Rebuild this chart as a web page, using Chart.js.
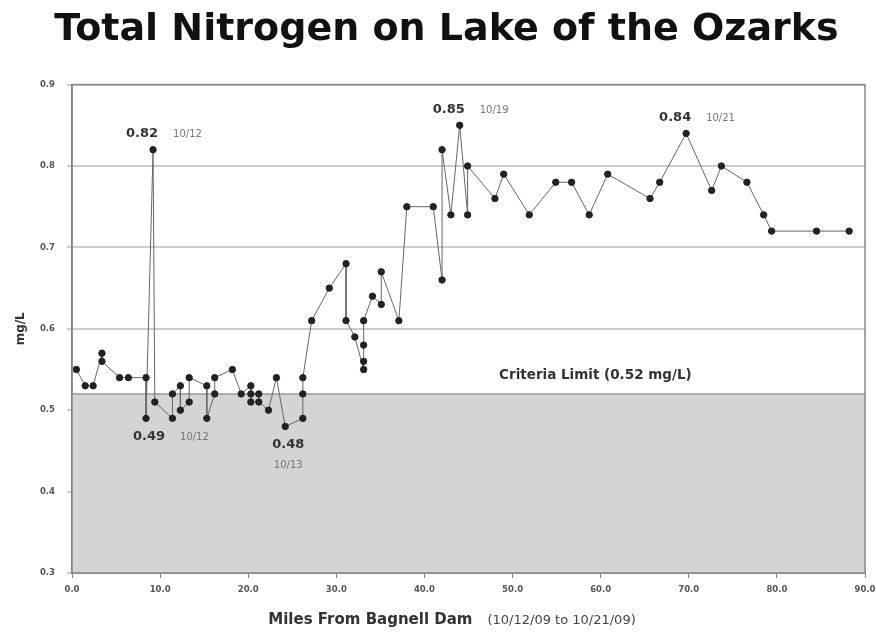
<!DOCTYPE html>
<html>
<head>
<meta charset="utf-8">
<script src="https://cdn.jsdelivr.net/npm/chart.js@4.4.0/dist/chart.umd.min.js"></script>
<style>
  html, body { margin: 0; padding: 0; background: #fff; }
</style>
</head>
<body>
<canvas id="myChart" width="876" height="633"></canvas>
<script>
// sampling sites, in the order the line joins them
var miles = [0.5, 1.5, 2.4, 3.4, 3.4, 5.4, 6.4, 8.4, 8.4, 9.2, 9.4, 11.4, 11.4, 12.3, 12.3, 13.3, 13.3,
  15.3, 15.3, 16.2, 16.2, 18.2, 19.2, 20.3, 20.3, 20.3, 21.2, 21.2, 22.3, 23.2, 24.2, 26.2, 26.2, 26.2,
  27.2, 29.2, 31.1, 31.1, 32.1, 33.1, 33.1, 33.1, 33.1, 34.1, 35.1, 35.1, 37.1, 38.0, 41.0, 42.0, 42.0,
  43.0, 44.0, 44.9, 44.9, 48.0, 49.0, 51.9, 54.9, 56.7, 58.7, 60.8, 65.6, 66.7, 69.7, 72.6, 73.7, 76.6,
  78.5, 79.4, 84.5, 88.2];
var nitrogen = [0.55, 0.53, 0.53, 0.57, 0.56, 0.54, 0.54, 0.54, 0.49, 0.82, 0.51, 0.49, 0.52, 0.53, 0.50, 0.51, 0.54,
  0.53, 0.49, 0.52, 0.54, 0.55, 0.52, 0.53, 0.51, 0.52, 0.52, 0.51, 0.50, 0.54, 0.48, 0.49, 0.52, 0.54,
  0.61, 0.65, 0.68, 0.61, 0.59, 0.55, 0.56, 0.58, 0.61, 0.64, 0.63, 0.67, 0.61, 0.75, 0.75, 0.66, 0.82,
  0.74, 0.85, 0.74, 0.80, 0.76, 0.79, 0.74, 0.78, 0.78, 0.74, 0.79, 0.76, 0.78, 0.84, 0.77, 0.80, 0.78,
  0.74, 0.72, 0.72, 0.72];

var criteriaLimit = 0.52;
var criteriaText = 'Criteria Limit (0.52 mg/L)';

// highs and lows called out on the chart
var noteMiles = [9.2, 44.0, 69.7, 8.4, 24.2];
var noteValues = [0.82, 0.85, 0.84, 0.49, 0.48];
var noteDates = ['10/12', '10/19', '10/21', '10/12', '10/13'];

var points = miles.map(function (m, i) { return { x: m, y: nitrogen[i] }; });

var notesPlugin = {
  id: 'notes',
  afterDraw: function (chart) {
    var c = chart.ctx;
    var xs = chart.scales.x, ys = chart.scales.y;
    var area = chart.chartArea;
    c.save();
    // frame round the plot
    c.strokeStyle = '#888';
    c.lineWidth = 1.5;
    c.strokeRect(area.left, area.top, area.right - area.left, area.bottom - area.top);

    // criteria label
    c.fillStyle = '#333';
    c.font = 'bold 13.5px "DejaVu Sans", sans-serif';
    c.textAlign = 'center';
    c.textBaseline = 'middle';
    c.fillText(criteriaText, xs.getPixelForValue(59.4), ys.getPixelForValue(0.543));

    for (var i = 0; i < noteMiles.length; i++) {
      var px = xs.getPixelForValue(noteMiles[i]);
      var py = ys.getPixelForValue(noteValues[i]);
      var low = noteValues[i] < criteriaLimit;
      c.fillStyle = '#333';
      c.font = 'bold 13px "DejaVu Sans", sans-serif';
      c.textAlign = 'center';
      var vx = low ? px + 3 : px - 11;
      var vy = low ? py + 18 : py - 16;
      c.fillText(noteValues[i].toFixed(2), vx, vy);
      c.fillStyle = '#777';
      c.font = '10px "DejaVu Sans", sans-serif';
      if (i === 4) {
        c.fillText(noteDates[i], px + 3, py + 39);
      } else {
        c.textAlign = 'left';
        c.fillText(noteDates[i], vx + 31, vy + 1);
      }
    }

    // x axis title in two fonts
    var t1 = 'Miles From Bagnell Dam';
    var t2 = '(10/12/09 to 10/21/09)';
    var f1 = 'bold 15px "DejaVu Sans", sans-serif';
    var f2 = '13px "DejaVu Sans", sans-serif';
    c.font = f1;
    var w1 = c.measureText(t1).width;
    c.font = f2;
    var w2 = c.measureText(t2).width;
    var gap = 15;
    var start = 452 - (w1 + gap + w2) / 2;
    c.textAlign = 'left';
    c.textBaseline = 'middle';
    c.fillStyle = '#333';
    c.font = f1;
    c.fillText(t1, start, area.bottom + 47);
    c.fillStyle = '#444';
    c.font = f2;
    c.fillText(t2, start + w1 + gap, area.bottom + 48);
    c.restore();
  }
};

var ctx = document.getElementById('myChart');

var myChart = new Chart(ctx, {
  type: 'line',
  data: {
    datasets: [{
      label: 'Total Nitrogen',
      data: points,
      borderColor: '#666',
      borderWidth: 1,
      pointBackgroundColor: '#222',
      pointBorderColor: '#222',
      pointRadius: 3.2,
      pointStyle: 'circle',
      tension: 0,
      fill: false,
      order: 1
    }, {
      label: 'Criteria',
      data: [{ x: 0, y: criteriaLimit }, { x: 90, y: criteriaLimit }],
      borderColor: '#999',
      borderWidth: 1.5,
      backgroundColor: '#d4d4d4',
      pointRadius: 0,
      fill: 'start',
      order: 2
    }]
  },
  options: {
    responsive: false,
    animation: false,
    layout: { padding: { left: 28, right: 11, top: 0, bottom: 0 } },
    plugins: {
      legend: { display: false },
      tooltip: { enabled: false },
      title: {
        display: true,
        text: 'Total Nitrogen on Lake of the Ozarks',
        color: '#111',
        font: { family: '"DejaVu Sans", sans-serif', size: 38, weight: 'bold' },
        padding: { top: 7, bottom: 32 }
      }
    },
    scales: {
      x: {
        type: 'linear',
        min: 0,
        max: 90,
        ticks: {
          stepSize: 10,
          padding: 7,
          color: '#555',
          font: { family: '"DejaVu Sans", sans-serif', size: 8.5, weight: 'bold' },
          maxRotation: 0,
          callback: function (v) { return v.toFixed(1); }
        },
        grid: { drawOnChartArea: false, drawTicks: true, tickLength: 5, color: '#888' },
        border: { color: '#777', width: 1.5 },
        afterFit: function (scale) {
          scale.height = 60;
          scale.paddingLeft = 0;
          scale.paddingRight = 0;
        }
      },
      y: {
        min: 0.3,
        max: 0.9,
        z: 1,
        ticks: {
          stepSize: 0.1,
          padding: 12,
          color: '#555',
          font: { family: '"DejaVu Sans", sans-serif', size: 8.5, weight: 'bold' },
          callback: function (v) { return v.toFixed(1); }
        },
        grid: { color: 'rgba(0,0,0,0.2)', lineWidth: 2, tickLength: 5 },
        border: { color: '#777', width: 1.5 },
        title: {
          display: true,
          text: 'mg/L',
          color: '#333',
          font: { family: '"DejaVu Sans", sans-serif', size: 12, weight: 'bold' },
          padding: { top: -14, bottom: 0 }
        },
        afterFit: function (scale) { scale.width = 44; }
      }
    }
  },
  plugins: [notesPlugin]
});
</script>
</body>
</html>
